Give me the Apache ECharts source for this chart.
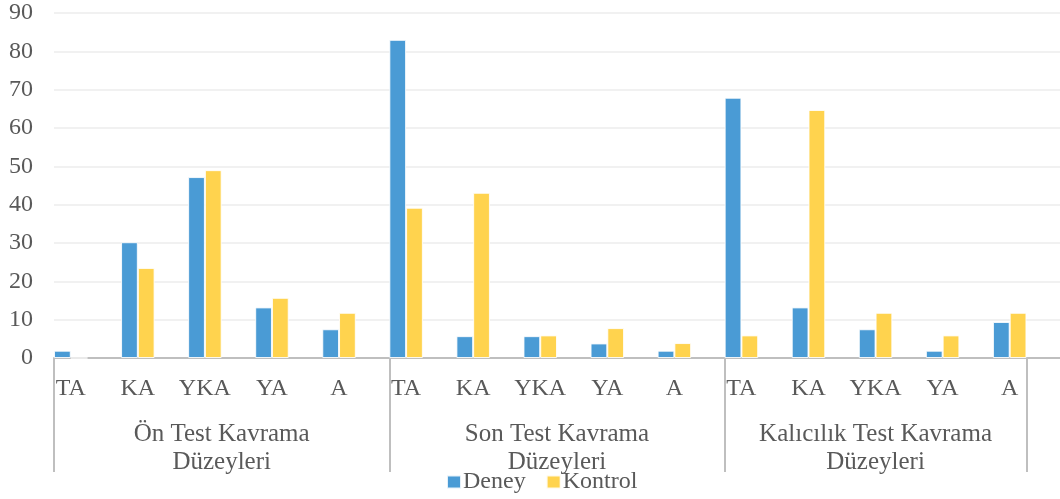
<!DOCTYPE html>
<html>
<head>
<meta charset="utf-8">
<script src="https://cdn.jsdelivr.net/npm/echarts@6/dist/echarts.min.js"></script>
<style>
html,body{margin:0;padding:0;background:#fff;}
#chart{width:1060px;height:499px;}
</style>
</head>
<body>
<div id="chart"></div>
<script>
// ---- data ----
const categories = ['TA','KA','YKA','YA','A','TA','KA','YKA','YA','A','TA','KA','YKA','YA','A'];
const groupNames = ['Ön Test Kavrama\nDüzeyleri','Son Test Kavrama\nDüzeyleri','Kalıcılık Test Kavrama\nDüzeyleri'];
const deney   = [1.9, 30.2, 47.2, 13.2, 7.5,  83.0, 5.7, 5.7, 3.8, 1.9,  67.9, 13.2, 7.5, 1.9, 9.4];
const kontrol = [0,   23.5, 49.0, 15.7, 11.8, 39.2, 43.1, 5.9, 7.8, 3.9,  5.9, 64.7, 11.8, 5.9, 11.8];
const seriesNames = ['Deney','Kontrol'];
const yMin = 0, yMax = 90, yStep = 10;
// group separators / label positions on the category scale (in category units)
const groupBounds = [0, 5, 10, 14.5];
const groupLabelPos = [2.5, 7.5, 12.25];

const FONT = 'Liberation Serif';
const TXT = '#595959';
const AXIS = '#bfbfbf';

const chart = echarts.init(document.getElementById('chart'), null, {renderer:'canvas'});
const barStyle = (c) => ({color:c, borderColor:'rgba(255,255,255,0.85)', borderWidth:1});

chart.setOption({
  animation:false,
  grid:{left:54, right:-2, top:13, bottom:141, containLabel:false},
  legend:{
    data:seriesNames,
    left:446, top:470, padding:0,
    icon:'rect', itemWidth:14, itemHeight:13, itemGap:20,
    textStyle:{fontFamily:FONT, fontSize:24, color:TXT, padding:[0,0,0,-3]}
  },
  xAxis:[{
    type:'category',
    data:categories,
    boundaryGap:true,
    axisLine:{show:true, lineStyle:{color:AXIS, width:2}},
    axisTick:{show:false},
    axisLabel:{interval:0, fontFamily:FONT, fontSize:24, color:TXT, margin:19, lineHeight:24,
               padding:[0,33.6,0,0]}
  },{
    type:'value',
    position:'bottom',
    min:0, max:15,
    axisLine:{show:false},
    splitLine:{show:false},
    axisTick:{show:true, customValues:groupBounds, length:114, lineStyle:{color:AXIS, width:2}},
    axisLabel:{customValues:groupLabelPos, fontFamily:FONT, fontSize:25, color:TXT,
               margin:62, lineHeight:28,
               formatter:(v)=>groupNames[groupLabelPos.indexOf(v)] || ''}
  }],
  yAxis:{
    type:'value', min:yMin, max:yMax, interval:yStep,
    axisLine:{show:false}, axisTick:{show:false},
    axisLabel:{fontFamily:FONT, fontSize:24, color:TXT, margin:21},
    splitLine:{lineStyle:{color:'#ececec', width:1.5}}
  },
  series:[
    {name:seriesNames[0], type:'bar', xAxisIndex:0, data:deney, barGap:'0%', barCategoryGap:'0%', itemStyle:barStyle('#4a9bd5')},
    {name:seriesNames[1], type:'bar', xAxisIndex:0, data:kontrol, barGap:'0%', barCategoryGap:'0%', itemStyle:barStyle('#ffd34e')},
    {name:'_s3', type:'bar', xAxisIndex:0, data:[], barGap:'0%', barCategoryGap:'0%'},
    {name:'_s4', type:'bar', xAxisIndex:0, data:[], barGap:'0%', barCategoryGap:'0%'}
  ]
});
</script>
</body>
</html>
